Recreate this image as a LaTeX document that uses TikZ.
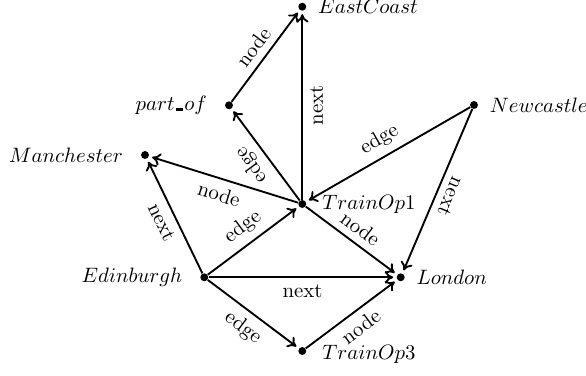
\documentclass[tikz,border=0pt]{standalone}
\usetikzlibrary{arrows.meta}
\begin{document}
\begin{tikzpicture}[x=0.48pt,y=-0.48pt,
  dot/.style={circle,fill,inner sep=0pt,minimum size=3.8pt},
  arr/.style={-{Computer Modern Rightarrow[length=4pt,width=6pt]},line width=0.9pt,shorten >=1.5pt},
  lab/.style={sloped,midway}]
\useasboundingbox (0,0) rectangle (586,376);
\node[dot,label={[label distance=2pt]right:$EastCoast$}] (ec) at (302.3,6.7) {};
\node[dot,label={[label distance=5pt]left:$part\kern.08em\rule{0.3em}{1pt}\kern.08em of$}] (po) at (229,105.3) {};
\node[dot,label={[label distance=5pt]left:$Manchester$}] (ma) at (145,155) {};
\node[dot,label={[label distance=2pt]right:$Newcastle$}] (nc) at (474,105) {};
\node[dot,label={[label distance=4pt]right:$TrainOp1$}] (t1) at (302.3,204) {};
\node[dot,label={[label distance=5pt]left:$Edinburgh$}] (ed) at (204.3,277.3) {};
\node[dot,label={[label distance=2pt]right:$London$}] (lo) at (400.7,277.3) {};
\node[dot,label={[label distance=4pt,yshift=-1.5pt]right:$TrainOp3$}] (t3) at (302.3,351) {};

\draw[arr] (po) -- node[lab,above] {node} (ec);
\draw[arr] (t1) -- node[lab,below] {next} (ec);
\draw[arr] (t1) -- node[lab,above,allow upside down] {edge} (po);
\draw[arr] (t1) -- node[lab,below] {node} (ma);
\draw[arr] (nc) -- node[lab,above] {edge} (t1);
\draw[arr] (nc) -- node[lab,above,allow upside down] {next} (lo);
\draw[arr] (t1) -- node[lab,above] {node} (lo);
\draw[arr] (ed) -- node[lab,above] {edge} (t1);
\draw[arr] (ed) -- node[lab,below] {next} (lo);
\draw[arr] (ed) -- node[lab,below] {edge} (t3);
\draw[arr] (t3) -- node[lab,below] {node} (lo);
\draw[arr] (ed) -- node[lab,below] {next} (ma);
\end{tikzpicture}
\end{document}
